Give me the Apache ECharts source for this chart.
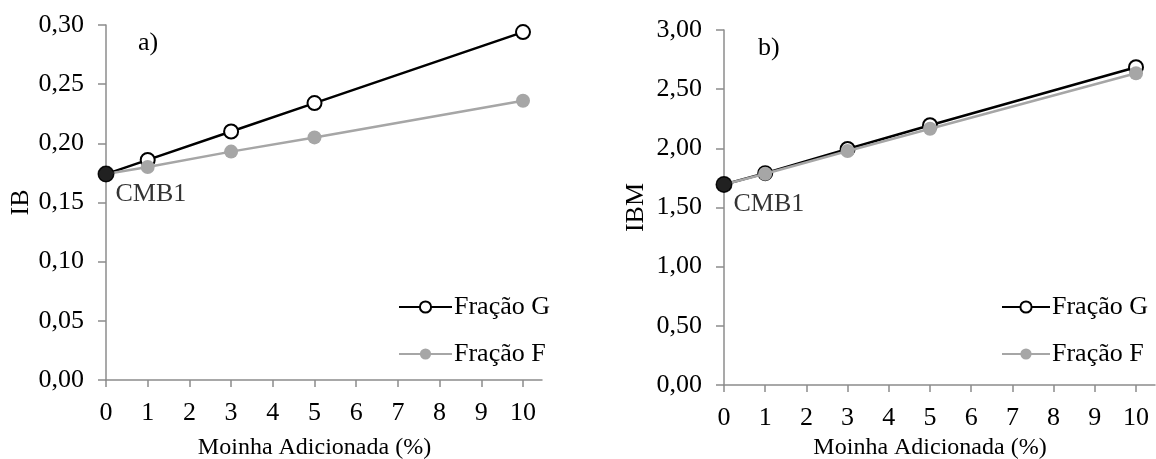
<!DOCTYPE html>
<html>
<head>
<meta charset="utf-8">
<script src="https://cdn.jsdelivr.net/npm/echarts@6/dist/echarts.min.js"></script>
<style>
html,body{margin:0;padding:0;background:#fff;}
#chart{width:1156px;height:459px;}
</style>
</head>
<body>
<div id="chart"></div>
<script>
// ---- data ----
const xValues = [0, 1, 3, 5, 10];
const xTicks = [0, 1, 2, 3, 4, 5, 6, 7, 8, 9, 10];
const ibFracaoG = [0.174, 0.186, 0.210, 0.234, 0.294];
const ibFracaoF = [0.174, 0.180, 0.193, 0.205, 0.236];
const ibmFracaoG = [1.695, 1.79, 1.995, 2.195, 2.685];
const ibmFracaoF = [1.695, 1.785, 1.978, 2.165, 2.635];
const cmb1IB = 0.174;
const cmb1IBM = 1.695;
const seriesNames = ['Fração G', 'Fração F'];
const yTicksIB = [0, 0.05, 0.10, 0.15, 0.20, 0.25, 0.30];
const yTicksIBM = [0, 0.5, 1.0, 1.5, 2.0, 2.5, 3.0];

// ---- styles ----
const FONT = 'Liberation Serif';
const AXIS_COLOR = '#8c8c8c';
const GRAY = '#a6a6a6';
const FS = 26;

function pairs(xs, ys) { return xs.map((x, i) => [x, ys[i]]); }
function comma(v) { return v.toFixed(2).replace('.', ','); }

const grids = [
  { left: 106, top: 25, width: 417, height: 355 },
  { left: 724, top: 30, width: 412, height: 355 },
  { left: 106, top: 25, width: 436, height: 355 },
  { left: 724, top: 30, width: 431, height: 355 }
].map(g => Object.assign(g, { containLabel: false, outerBoundsMode: 'none' }));

function dataXAxis(gridIndex, nameGap) {
  return {
    type: 'value', gridIndex: gridIndex, min: xTicks[0], max: xTicks[xTicks.length - 1], interval: 1,
    name: 'Moinha Adicionada (%)', nameLocation: 'middle', nameGap: nameGap,
    nameTextStyle: { fontFamily: FONT, fontSize: 24, color: '#000' },
    axisLine: { show: false },
    axisTick: { show: true, length: 7, inside: false, lineStyle: { color: AXIS_COLOR, width: 1.5 } },
    axisLabel: { fontFamily: FONT, fontSize: FS, color: '#000', margin: 20 },
    splitLine: { show: false }
  };
}
function extXAxis(gridIndex) {
  return {
    type: 'value', gridIndex: gridIndex, min: 0, max: 1,
    axisLine: { show: true, onZero: false, lineStyle: { color: AXIS_COLOR, width: 1.5 } },
    axisTick: { show: false }, axisLabel: { show: false }, splitLine: { show: false }
  };
}
function dataYAxis(gridIndex, ticks, name, nameGap) {
  return {
    type: 'value', gridIndex: gridIndex, min: ticks[0], max: ticks[ticks.length - 1],
    interval: ticks[1] - ticks[0],
    name: name, nameLocation: 'middle', nameGap: nameGap, nameRotate: 90,
    nameTextStyle: { fontFamily: FONT, fontSize: FS, color: '#000' },
    axisLine: { show: true, lineStyle: { color: AXIS_COLOR, width: 1.5 } },
    axisTick: { show: true, length: 8, lineStyle: { color: AXIS_COLOR, width: 1.5 } },
    axisLabel: { fontFamily: FONT, fontSize: FS, color: '#000', margin: 22, formatter: comma },
    splitLine: { show: false }
  };
}
function extYAxis(gridIndex) {
  return { type: 'value', gridIndex: gridIndex, min: 0, max: 1, show: false };
}

function lineSeries(name, xi, yi, data, isG) {
  return {
    name: name, type: 'line', xAxisIndex: xi, yAxisIndex: yi,
    data: pairs(xValues, data),
    symbol: 'circle', symbolSize: 14,
    lineStyle: { color: isG ? '#000' : GRAY, width: 2.5 },
    itemStyle: isG ? { color: '#fff', borderColor: '#000', borderWidth: 2 } : { color: GRAY },
    z: isG ? 2 : 3,
    animation: false
  };
}
function cmbSeries(xi, yi, y) {
  return {
    name: 'CMB1', type: 'scatter', xAxisIndex: xi, yAxisIndex: yi,
    data: [[xValues[0], y]], symbol: 'circle', symbolSize: 17,
    itemStyle: { color: '#000' },
    label: { show: true, formatter: 'CMB1', position: 'right', offset: [-4, 20],
             fontFamily: FONT, fontSize: FS, color: '#000' },
    z: 10, animation: false
  };
}

function legend(left, top, itemWidth) {
  return {
    data: [seriesNames[0], seriesNames[1]],
    orient: 'vertical', left: left, top: top, itemWidth: itemWidth, itemHeight: 14, itemGap: 21,
    textStyle: { fontFamily: FONT, fontSize: FS, color: '#000', padding: [0, 0, 0, -3] },
    selectedMode: false
  };
}

const option = {
  animation: false,
  grid: grids,
  xAxis: [dataXAxis(0, 56), dataXAxis(1, 50), extXAxis(2), extXAxis(3)],
  yAxis: [dataYAxis(0, yTicksIB, 'IB', 72), dataYAxis(1, yTicksIBM, 'IBM', 75), extYAxis(2), extYAxis(3)],
  legend: [legend(393, 289, 53), legend(996, 289, 48)],
  title: [
    { text: 'a)', left: 133, top: 25, textStyle: { fontFamily: FONT, fontSize: FS, fontWeight: 'normal', color: '#000' } },
    { text: 'b)', left: 753, top: 30, textStyle: { fontFamily: FONT, fontSize: FS, fontWeight: 'normal', color: '#000' } }
  ],
  series: [
    lineSeries(seriesNames[0], 0, 0, ibFracaoG, true),
    lineSeries(seriesNames[1], 0, 0, ibFracaoF, false),
    cmbSeries(0, 0, cmb1IB),
    lineSeries(seriesNames[0], 1, 1, ibmFracaoG, true),
    lineSeries(seriesNames[1], 1, 1, ibmFracaoF, false),
    cmbSeries(1, 1, cmb1IBM)
  ]
};

const chart = echarts.init(document.getElementById('chart'), null, { renderer: 'canvas' });
chart.setOption(option);
</script>
</body>
</html>
